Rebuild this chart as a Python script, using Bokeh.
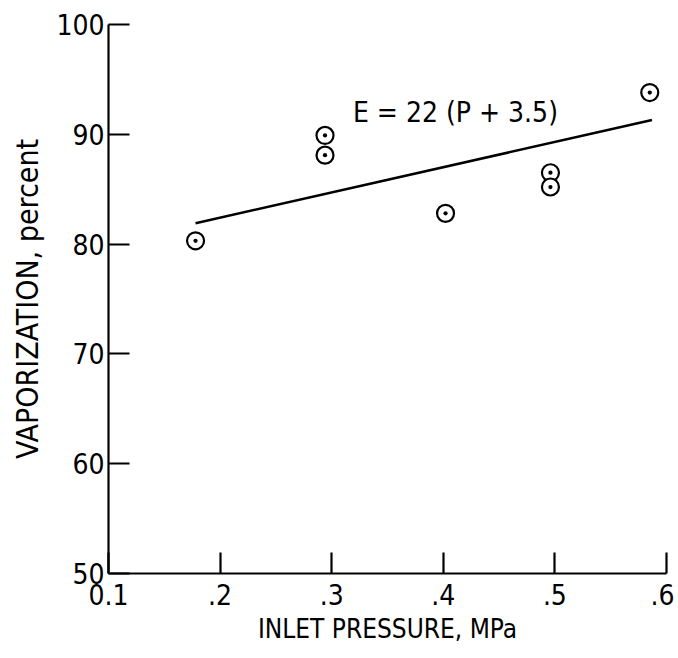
from bokeh.plotting import figure
from bokeh.models import Range1d, FixedTicker, Label
from bokeh.core.properties import value
from bokeh.embed import file_html
from bokeh.resources import INLINE

# data
pressure = [0.178, 0.294, 0.294, 0.402, 0.496, 0.496, 0.585]
vaporization = [80.3, 89.9, 88.1, 82.8, 86.5, 85.2, 93.8]
fit_x = [0.178, 0.587]
fit_y = [81.9, 91.3]
x_ticks = [0.1, 0.2, 0.3, 0.4, 0.5, 0.6]
x_tick_labels = ["0.1", ".2", ".3", ".4", ".5", ".6"]
y_ticks = [50, 60, 70, 80, 90, 100]
equation = "E = 22 (P + 3.5)"
equation_pos = (0.319, 92.0)

FONT = "DejaVu Sans Condensed"

p = figure(width=674, height=650, output_backend="svg", toolbar_location=None,
           x_range=Range1d(0.1, 0.6), y_range=Range1d(50, 100),
           min_border_left=108, min_border_right=8, min_border_top=24, min_border_bottom=77)
p.outline_line_color = None
p.xgrid.visible = False
p.ygrid.visible = False
p.background_fill_color = "white"

p.line(fit_x, fit_y, line_color="black", line_width=2.5)
p.scatter(pressure, vaporization, marker="circle_dot", size=17, line_color="black",
          line_width=2.2, fill_color="white")

p.add_layout(Label(x=equation_pos[0], y=equation_pos[1], text=equation,
                   text_font=FONT, text_font_size="28px", text_color="black",
                   text_baseline="alphabetic"))

for ax in (p.xaxis[0], p.yaxis[0]):
    ax.axis_line_color = "black"
    ax.axis_line_width = 2.2
    ax.major_tick_line_color = "black"
    ax.major_tick_line_width = 2.2
    ax.major_tick_in = 21
    ax.major_tick_out = 0
    ax.minor_tick_line_color = None
    ax.major_label_text_font = FONT
    ax.major_label_text_color = "black"
    ax.axis_label_text_font = FONT
    ax.axis_label_text_font_style = "normal"
    ax.axis_label_text_color = "black"

p.xaxis.ticker = FixedTicker(ticks=x_ticks)
p.xaxis.major_label_overrides = {t: l for t, l in zip(x_ticks, x_tick_labels)}
p.xaxis.major_label_text_font_size = "28px"
p.xaxis.major_label_standoff = 10
p.xaxis.axis_label = "INLET PRESSURE, MPa"
p.xaxis.axis_label_text_font_size = "26px"
p.xaxis.axis_label_standoff = 6

p.yaxis.ticker = FixedTicker(ticks=y_ticks)
p.yaxis.major_label_text_font_size = "28px"
p.yaxis.major_label_standoff = 4
p.yaxis.major_label_orientation = "horizontal"
p.yaxis.axis_label = "VAPORIZATION, percent"
p.yaxis.axis_label_text_font_size = "30px"
p.yaxis.axis_label_standoff = 8

open("out.html", "w").write(file_html(p, INLINE))
